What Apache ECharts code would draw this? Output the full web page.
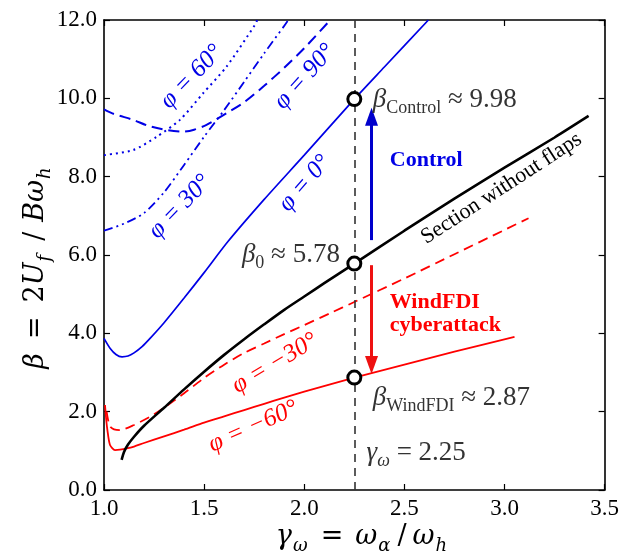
<!DOCTYPE html>
<html>
<head>
<meta charset="utf-8">
<script src="https://cdn.jsdelivr.net/npm/echarts@6/dist/echarts.min.js"></script>
<style>
  html, body { margin: 0; padding: 0; background: #fff; }
  #main { width: 622px; height: 555px; }
</style>
</head>
<body>
<div id="main"></div>
<script>
// curves, points are [gamma_w, beta]
var phi0 = [[1.0, 3.87], [1.03, 3.62], [1.06, 3.46], [1.09, 3.4], [1.12, 3.42], [1.15, 3.5], [1.19, 3.66], [1.23, 3.87],
  [1.3, 4.27], [1.4, 4.9], [1.5, 5.55], [1.62, 6.35], [1.8, 7.42], [2.0, 8.55], [2.25, 9.98], [2.4, 10.8], [2.62, 12.0]];
var phi30 = [[1.0, 6.62], [1.1, 6.8], [1.2, 7.07], [1.3, 7.6], [1.4, 8.3], [1.5, 9.02], [1.6, 9.7], [1.7, 10.42],
  [1.8, 11.15], [1.9, 11.85], [1.92, 12.0]];
var phi60 = [[1.0, 8.55], [1.146, 8.68], [1.263, 9.02], [1.379, 9.45], [1.495, 10.13], [1.612, 10.81], [1.753, 11.87],
  [1.765, 12.0]];
var phi90 = [[1.0, 9.72], [1.05, 9.6], [1.146, 9.45], [1.22, 9.3], [1.313, 9.19], [1.396, 9.15], [1.45, 9.2],
  [1.512, 9.32], [1.612, 9.62], [1.7, 9.9], [1.8, 10.32], [1.9, 10.78], [2.0, 11.28], [2.13, 12.0]];
var noFlaps = [[1.088, 0.77], [1.1, 0.97], [1.12, 1.16], [1.15, 1.36], [1.2, 1.64], [1.3, 2.1], [1.4, 2.57], [1.5, 3.02],
  [1.6, 3.45], [1.7, 3.85], [1.8, 4.23], [1.9, 4.6], [2.0, 4.94], [2.1, 5.28], [2.25, 5.78], [2.5, 6.62], [2.75, 7.44],
  [3.0, 8.23], [3.25, 9.0], [3.42, 9.55]];
var phiM30 = [[1.013, 2.0], [1.02, 1.8], [1.03, 1.62], [1.05, 1.55], [1.08, 1.53], [1.15, 1.66], [1.23, 1.87], [1.3, 2.1],
  [1.4, 2.47], [1.5, 2.86], [1.6, 3.2], [1.7, 3.5], [1.8, 3.74], [1.9, 3.98], [2.0, 4.21], [2.128, 4.51], [2.25, 4.8],
  [2.5, 5.4], [2.75, 6.02], [3.0, 6.64], [3.12, 6.94]];
var phiM60 = [[1.005, 2.17], [1.011, 1.8], [1.017, 1.53], [1.03, 1.15], [1.055, 1.02], [1.08, 1.03], [1.113, 1.06],
  [1.15, 1.11], [1.2, 1.2], [1.3, 1.37], [1.4, 1.54], [1.5, 1.72], [1.6, 1.88], [1.7, 2.04], [1.8, 2.2], [1.9, 2.36],
  [2.0, 2.51], [2.25, 2.87], [2.5, 3.2], [2.75, 3.53], [3.05, 3.91]];
var gammaW = 2.25;
var betaPoints = [[2.25, 9.98], [2.25, 5.78], [2.25, 2.87]];
var controlArrow = [[2.336, 6.38], [2.336, 9.53]];
var attackArrow = [[2.336, 5.74], [2.336, 3.19]];

var BLUE = '#0000e6';
var RED = '#ff0000';
var SERIF = '"Liberation Serif", "DejaVu Serif", serif';
var MATH = '"DejaVu Serif", serif';

var chart = echarts.init(document.getElementById('main'));

function axisX(pos) {
  return {
    type: 'value', position: pos, min: 1.0, max: 3.5, interval: 0.5,
    axisLine: { show: true, onZero: false, lineStyle: { color: '#000', width: 1.6 } },
    axisTick: { show: true, inside: true, length: 6, lineStyle: { color: '#000', width: 1.2 } },
    axisLabel: {
      show: pos === 'bottom', margin: 7, color: '#000', fontFamily: SERIF, fontSize: 23,
      formatter: function (v) { return v.toFixed(1); }
    },
    splitLine: { show: false }
  };
}
function axisY(pos) {
  return {
    type: 'value', position: pos, min: 0, max: 12, interval: 2,
    axisLine: { show: true, onZero: false, lineStyle: { color: '#000', width: 1.6 } },
    axisTick: { show: true, inside: true, length: 6, lineStyle: { color: '#000', width: 1.2 } },
    axisLabel: {
      show: pos === 'left', margin: 7, color: '#000', fontFamily: SERIF, fontSize: 23,
      formatter: function (v) { return v.toFixed(1); }
    },
    splitLine: { show: false }
  };
}

function curve(data, color, width, type) {
  return {
    type: 'line', data: data, showSymbol: false, smooth: 0.25,
    lineStyle: { color: color, width: width, type: type }, z: 3, silent: true
  };
}

function arrow(pts, color) {
  return {
    silent: true, symbol: ['none', 'triangle'], symbolSize: [13, 18],
    label: { show: false },
    lineStyle: { color: color, width: 3, type: 'solid' },
    data: [[{ coord: pts[0] }, { coord: pts[1] }]]
  };
}

var option = {
  animation: false,
  backgroundColor: '#fff',
  grid: { left: 104, right: 17, top: 20, bottom: 65, containLabel: false },
  xAxis: [axisX('bottom'), axisX('top')],
  yAxis: [axisY('left'), axisY('right')],
  series: [
    curve(phi0, BLUE, 1.7, 'solid'),
    curve(phi30, BLUE, 1.8, [9, 4, 2, 4, 2, 4]),
    curve(phi60, BLUE, 2, [2, 4]),
    curve(phi90, BLUE, 2, [11, 6]),
    curve(phiM30, RED, 1.8, [10, 6]),
    curve(phiM60, RED, 1.8, 'solid'),
    curve(noFlaps, '#000', 2.6, 'solid'),
    {
      type: 'line', data: [], silent: true,
      markLine: {
        silent: true, symbol: ['none', 'none'], label: { show: false },
        lineStyle: { color: '#333', width: 1.6, type: [8, 6] },
        data: [{ xAxis: gammaW }]
      }
    },
    { type: 'line', data: [], silent: true, markLine: arrow(controlArrow, '#0000cc') },
    { type: 'line', data: [], silent: true, markLine: arrow(attackArrow, '#ee1111') },
    {
      type: 'scatter', data: betaPoints, symbol: 'circle', symbolSize: 13, z: 10, silent: true,
      itemStyle: { color: '#fff', borderColor: '#000', borderWidth: 3, opacity: 1 }
    }
  ]
};
chart.setOption(option);

var mathRich = {
  i: { fontFamily: SERIF, fontStyle: 'italic', fontSize: 27, lineHeight: 34, verticalAlign: 'middle' },
  r: { fontFamily: SERIF, fontSize: 27, lineHeight: 34, verticalAlign: 'middle' },
  s: { fontFamily: SERIF, fontSize: 18, lineHeight: 34, verticalAlign: 'bottom' },
  si: { fontFamily: SERIF, fontStyle: 'italic', fontSize: 18, lineHeight: 34, verticalAlign: 'bottom' }
};
// axis titles, wider spacing like TeX math
function titleRich(eqPad, slPad, subPad) {
  return {
    i: { fontFamily: MATH, fontStyle: 'italic', fontSize: 27, lineHeight: 36, verticalAlign: 'middle' },
    r: { fontFamily: MATH, fontSize: 27, lineHeight: 36, verticalAlign: 'middle' },
    eq: { fontFamily: MATH, fontSize: 27, lineHeight: 36, verticalAlign: 'middle', padding: [0, eqPad, 0, eqPad] },
    sl: { fontFamily: MATH, fontSize: 27, lineHeight: 36, verticalAlign: 'middle', padding: [0, slPad, 0, slPad] },
    si: { fontFamily: MATH, fontStyle: 'italic', fontSize: 18, lineHeight: 36, verticalAlign: 'bottom', padding: [0, subPad, 0, 1] }
  };
}

function note(x, y, text, o) {
  var p = chart.convertToPixel({ gridIndex: 0 }, [x, y]);
  return {
    type: 'text', x: p[0], y: p[1], rotation: (o.rot || 0) * Math.PI / 180, z: 20, silent: true,
    style: {
      text: text, rich: o.rich, fill: o.color || '#333', align: o.align || 'center', verticalAlign: 'middle',
      font: o.font, lineHeight: o.lineHeight
    }
  };
}

var phiFont = 'italic 25px ' + SERIF;
var graphics = [
  note(1.438, 10.55, 'φ = 60°', { rot: 46, color: BLUE, font: phiFont }),
  note(2.003, 10.55, 'φ = 90°', { rot: 48, color: BLUE, font: phiFont }),
  note(1.379, 7.23, 'φ = 30°', { rot: 46, color: BLUE, font: phiFont }),
  note(2.003, 7.83, 'φ = 0°', { rot: 49, color: BLUE, font: phiFont }),
  note(1.853, 3.23, 'φ = −30°', { rot: 31, color: RED, font: phiFont }),
  note(1.745, 1.62, 'φ = −60°', { rot: 24, color: RED, font: phiFont }),
  note(2.985, 7.7, 'Section without flaps', { rot: 33, color: '#000', font: '22px ' + SERIF }),
  note(2.427, 8.42, 'Control', { align: 'left', color: BLUE, font: 'bold 22px ' + SERIF }),
  note(2.427, 4.5, 'WindFDI\ncyberattack', { align: 'left', color: RED, font: 'bold 22px ' + SERIF, lineHeight: 23 }),
  note(2.342, 9.96, '{i|β}{s|Control}{r| ≈ 9.98}', { align: 'left', rich: mathRich }),
  note(2.178, 6.0, '{i|β}{s|0}{r| ≈ 5.78}', { align: 'right', rich: mathRich }),
  note(2.342, 2.35, '{i|β}{s|WindFDI}{r| ≈ 2.87}', { align: 'left', rich: mathRich }),
  note(2.311, 0.94, '{i|γ}{si|ω}{r| = 2.25}', { align: 'left', rich: mathRich }),
  {
    type: 'text', x: 362, y: 537, z: 20, silent: true,
    style: {
      text: '{i|γ}{si|ω}{eq|=}{i|ω}{si|α}{sl|/}{i|ω}{si|h}', align: 'center', verticalAlign: 'middle', fill: '#000',
      rich: titleRich(12, 6, 1)
    }
  },
  {
    type: 'text', x: 36, y: 266, rotation: Math.PI / 2, z: 20, silent: true,
    style: {
      text: '{i|β}{eq|=}{r|2}{i|U}{si|f}{sl|/}{i|Bω}{si|h}', align: 'center', verticalAlign: 'middle', fill: '#000',
      rich: titleRich(14, 10, 4)
    }
  }
];
chart.setOption({ graphic: graphics });
</script>
</body>
</html>
